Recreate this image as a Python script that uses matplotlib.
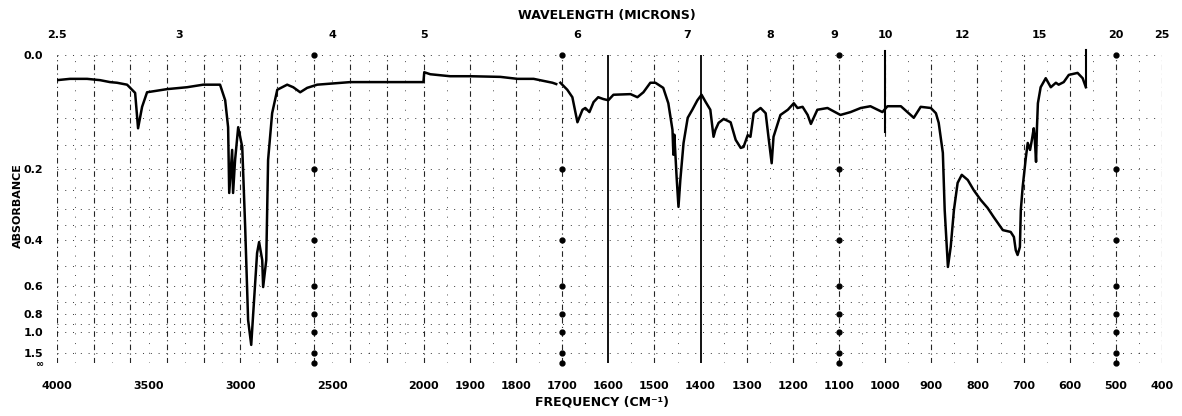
import numpy as np
import matplotlib.pyplot as plt

# Espectro IR: frecuencia (cm-1) y absorbancia, dos tramos de papel
freq_a = [4000, 3929, 3836, 3765, 3711, 3673, 3618, 3574, 3558, 3536, 3509, 3400,
          3291, 3203, 3111, 3083, 3067, 3061, 3045, 3040, 3029, 3012, 2990, 2974,
          2958, 2941, 2930, 2909, 2898, 2881, 2876, 2859, 2849, 2827, 2799, 2745,
          2712, 2674, 2636, 2581, 2401, 2199, 2019, 2002, 1999, 1986, 1943, 1899,
          1834, 1797, 1762, 1721, 1713]
abs_a = [0.037, 0.035, 0.035, 0.037, 0.040, 0.041, 0.044, 0.057, 0.118, 0.080, 0.056, 0.051,
         0.048, 0.044, 0.044, 0.069, 0.116, 0.258, 0.160, 0.258, 0.181, 0.116, 0.154, 0.355,
         0.855, 1.23, 0.79, 0.447, 0.406, 0.476, 0.608, 0.476, 0.181, 0.091, 0.052, 0.044,
         0.048, 0.056, 0.049, 0.044, 0.040, 0.040, 0.040, 0.040, 0.025, 0.028, 0.031, 0.031,
         0.032, 0.035, 0.035, 0.041, 0.043]

freq_b = [1704, 1689, 1678, 1667, 1656, 1650, 1641, 1632, 1622, 1611, 1600, 1589,
          1552, 1537, 1524, 1509, 1498, 1481, 1470, 1461, 1459, 1457, 1452, 1448,
          1444, 1437, 1428, 1418, 1407, 1398, 1389, 1379, 1372, 1368, 1361, 1350,
          1335, 1324, 1313, 1307, 1298, 1292, 1285, 1270, 1259, 1253, 1246, 1242,
          1227, 1211, 1198, 1190, 1179, 1168, 1161, 1147, 1125, 1097, 1075, 1053,
          1032, 1006, 995, 966, 938, 923, 901, 890, 884, 875, 871, 864,
          858, 851, 843, 834, 821, 808, 793, 778, 765, 745, 728, 721,
          717, 713, 708, 706, 702, 695, 691, 686, 682, 678, 676, 673,
          671, 669, 663, 652, 641, 630, 624, 613, 602, 583, 572, 565]
abs_b = [0.041, 0.052, 0.064, 0.107, 0.085, 0.082, 0.089, 0.072, 0.064, 0.067, 0.069, 0.060,
         0.059, 0.064, 0.056, 0.041, 0.041, 0.049, 0.074, 0.121, 0.170, 0.130, 0.220, 0.295,
         0.226, 0.146, 0.099, 0.085, 0.069, 0.060, 0.072, 0.085, 0.134, 0.121, 0.108, 0.101,
         0.107, 0.140, 0.156, 0.154, 0.131, 0.134, 0.091, 0.082, 0.091, 0.134, 0.188, 0.134,
         0.094, 0.085, 0.074, 0.082, 0.080, 0.094, 0.110, 0.085, 0.082, 0.094, 0.089, 0.082,
         0.079, 0.089, 0.079, 0.079, 0.099, 0.080, 0.082, 0.091, 0.108, 0.166, 0.304, 0.506,
         0.424, 0.304, 0.233, 0.214, 0.226, 0.251, 0.276, 0.298, 0.324, 0.365, 0.371, 0.388,
         0.436, 0.455, 0.424, 0.304, 0.243, 0.175, 0.146, 0.160, 0.140, 0.118, 0.134, 0.185,
         0.116, 0.074, 0.048, 0.034, 0.048, 0.041, 0.044, 0.040, 0.029, 0.026, 0.034, 0.048]

# Ejes
freq_ticks = [4000, 3500, 3000, 2500, 2000, 1900, 1800, 1700, 1600, 1500, 1400,
              1300, 1200, 1100, 1000, 900, 800, 700, 600, 500, 400]
wave_ticks = [2.5, 3, 4, 5, 6, 7, 8, 9, 10, 12, 15, 20, 25]
wave_labels = ['2.5', '3', '4', '5', '6', '7', '8', '9', '10', '12', '15', '20', '25']
abs_inf = 4.0
abs_ticks = [0.0, 0.2, 0.4, 0.6, 0.8, 1.0, 1.5]
abs_labels = ['0.0', '0.2', '0.4', '0.6', '0.8', '1.0', '1.5']
abs_grid = [0.0, 0.1, 0.15, 0.2, 0.25, 0.3, 0.35, 0.4, 0.5, 0.6, 0.7, 0.8, 0.9, 1.0, 1.5]

grid_major = list(range(4000, 1999, -200)) + list(range(1900, 399, -100))
grid_minor = list(range(3900, 2000, -200)) + list(range(1950, 400, -100))
grid_solid = [1600, 1400]
marca_cols = [2600, 1700, 1100, 500]


# Escala de frecuencia: 4000-2000 comprimida, 2000-400 expandida
def f_fwd(w):
    w = np.asarray(w, dtype=float)
    return np.where(w >= 2000, (w - 4000) * 0.18325, -366.5 - (2000 - w) * 0.461)


def f_inv(u):
    u = np.asarray(u, dtype=float)
    return np.where(u >= -366.5, 4000 + u / 0.18325, 2000 + (u + 366.5) / 0.461)


# Absorbancia sobre papel lineal en transmitancia
def a_fwd(a):
    a = np.asarray(a, dtype=float)
    return 1 - 10.0 ** (-a)


def a_inv(u):
    u = np.asarray(u, dtype=float)
    return -np.log10(np.clip(1 - u, 1e-9, None))


fig = plt.figure(figsize=(11.82, 4.16), dpi=100)
ax = fig.add_axes([57 / 1182, 1 - 363 / 416, 1105 / 1182, 308 / 416])
ax.set_xscale('function', functions=(f_fwd, f_inv))
ax.set_yscale('function', functions=(a_fwd, a_inv))
ax.set_xlim(4000, 400)
ax.set_ylim(abs_inf, 0)

for s in ax.spines.values():
    s.set_visible(False)

# Cuadricula del papel
for a in abs_grid + [abs_inf]:
    ax.axhline(a, color='black', lw=0.7, ls=(0, (1, 7)), alpha=0.8, zorder=1)
for w in grid_major:
    if w in grid_solid:
        ax.axvline(w, color='black', lw=1.3, zorder=1)
    else:
        ax.axvline(w, color='black', lw=0.8, ls=(0, (5, 3, 1, 3)), alpha=0.85, zorder=1)
for w in grid_minor:
    ax.axvline(w, color='black', lw=0.7, ls=(0, (1, 9)), alpha=0.7, zorder=1)
for w in marca_cols:
    ax.plot([w] * (len(abs_ticks) + 1), abs_ticks + [abs_inf], 'o', color='black',
            ms=3.5, zorder=2, clip_on=False)

# Espectro
ax.plot(freq_a, abs_a, color='black', lw=1.8, zorder=3)
ax.plot(freq_b, abs_b, color='black', lw=1.8, zorder=3)
ax.plot([freq_b[-1], freq_b[-1]], [abs_b[-1], -0.007], color='black', lw=1.5, zorder=3,
        clip_on=False)
ax.plot([1000, 1000], [-0.005, 0.125], color='black', lw=1.5, zorder=3, clip_on=False)

ax.set_xticks(freq_ticks)
ax.set_xticklabels([str(f) for f in freq_ticks])
ax.set_yticks(abs_ticks + [abs_inf])
ax.set_yticklabels(abs_labels + ['∞'])
ax.minorticks_off()
ax.tick_params(axis='both', length=0, labelsize=8)
ax.tick_params(axis='x', pad=13)
ax.tick_params(axis='y', pad=10)
for t in ax.get_xticklabels() + ax.get_yticklabels():
    t.set_fontweight('bold')
ax.get_yticklabels()[-1].set_fontsize(7)

# Escala superior en micras
for lam, lab in zip(wave_ticks, wave_labels):
    ax.text(1e4 / lam, 1.065, lab, transform=ax.get_xaxis_transform(),
            ha='center', va='center', fontsize=8, fontweight='bold')

fig.text(607 / 1182, 1 - 15 / 416, 'WAVELENGTH (MICRONS)', ha='center', va='center',
         fontsize=9, fontweight='bold')
fig.text(602 / 1182, 1 - 402 / 416, 'FREQUENCY (CM⁻¹)', ha='center', va='center',
         fontsize=9, fontweight='bold')
fig.text(18 / 1182, 1 - 206 / 416, 'ABSORBANCE', rotation=90, ha='center', va='center',
         fontsize=8, fontweight='bold')

fig.savefig('out.png', dpi=100)
